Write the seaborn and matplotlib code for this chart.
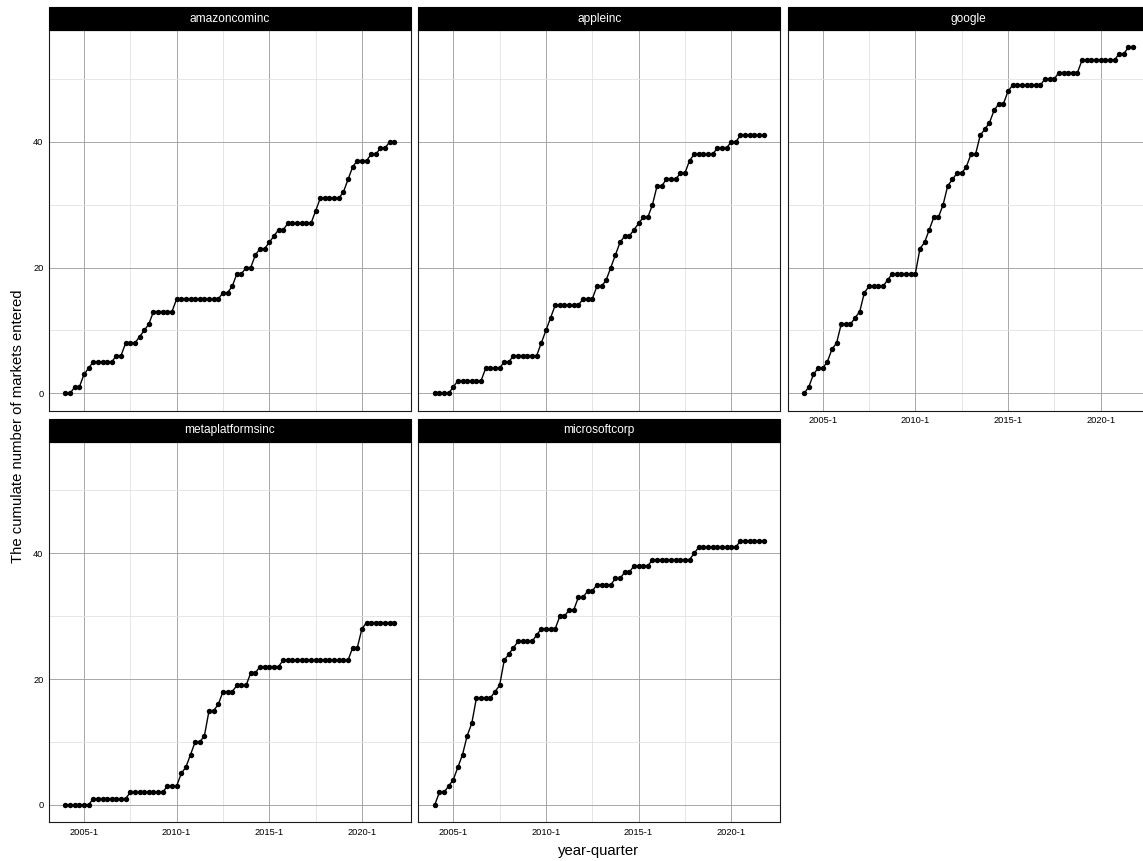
import matplotlib
matplotlib.use("Agg")
import numpy as np
import pandas as pd
import seaborn as sns
import matplotlib.pyplot as plt
from matplotlib.patches import Rectangle

# ---------------- data ----------------
firms = ["amazoncominc", "appleinc", "google", "metaplatformsinc", "microsoftcorp"]

years = list(range(2004, 2022))
quarters = [1, 2, 3, 4]
period_labels = [f"{y}-{q}" for y in years for q in quarters]
period_pos = [y + (q - 1) / 4 for y in years for q in quarters]

amazoncominc = [0, 0, 1, 1, 3, 4, 5, 5, 5, 5, 5, 6, 6, 8, 8, 8, 9, 10, 11, 13,
                13, 13, 13, 13, 15, 15, 15, 15, 15, 15, 15, 15, 15, 15, 16, 16, 17, 19, 19, 20,
                20, 22, 23, 23, 24, 25, 26, 26, 27, 27, 27, 27, 27, 27, 29, 31, 31, 31, 31, 31,
                32, 34, 36, 37, 37, 37, 38, 38, 39, 39, 40, 40]
appleinc = [0, 0, 0, 0, 1, 2, 2, 2, 2, 2, 2, 4, 4, 4, 4, 5, 5, 6, 6, 6,
            6, 6, 6, 8, 10, 12, 14, 14, 14, 14, 14, 14, 15, 15, 15, 17, 17, 18, 20, 22,
            24, 25, 25, 26, 27, 28, 28, 30, 33, 33, 34, 34, 34, 35, 35, 37, 38, 38, 38, 38,
            38, 39, 39, 39, 40, 40, 41, 41, 41, 41, 41, 41]
google = [0, 1, 3, 4, 4, 5, 7, 8, 11, 11, 11, 12, 13, 16, 17, 17, 17, 17, 18, 19,
          19, 19, 19, 19, 19, 23, 24, 26, 28, 28, 30, 33, 34, 35, 35, 36, 38, 38, 41, 42,
          43, 45, 46, 46, 48, 49, 49, 49, 49, 49, 49, 49, 50, 50, 50, 51, 51, 51, 51, 51,
          53, 53, 53, 53, 53, 53, 53, 53, 54, 54, 55, 55]
metaplatformsinc = [0, 0, 0, 0, 0, 0, 1, 1, 1, 1, 1, 1, 1, 1, 2, 2, 2, 2, 2, 2,
                    2, 2, 3, 3, 3, 5, 6, 8, 10, 10, 11, 15, 15, 16, 18, 18, 18, 19, 19, 19,
                    21, 21, 22, 22, 22, 22, 22, 23, 23, 23, 23, 23, 23, 23, 23, 23, 23, 23, 23, 23,
                    23, 23, 25, 25, 28, 29, 29, 29, 29, 29, 29, 29]
microsoftcorp = [0, 2, 2, 3, 4, 6, 8, 11, 13, 17, 17, 17, 17, 18, 19, 23, 24, 25, 26, 26,
                 26, 26, 27, 28, 28, 28, 28, 30, 30, 31, 31, 33, 33, 34, 34, 35, 35, 35, 35, 36,
                 36, 37, 37, 38, 38, 38, 38, 39, 39, 39, 39, 39, 39, 39, 39, 39, 40, 41, 41, 41,
                 41, 41, 41, 41, 41, 41, 42, 42, 42, 42, 42, 42]

series = [amazoncominc, appleinc, google, metaplatformsinc, microsoftcorp]

x_tick_pos = [2005, 2010, 2015, 2020]
x_tick_labels = ["2005-1", "2010-1", "2015-1", "2020-1"]
x_minor_pos = [2007.5, 2012.5, 2017.5]
y_ticks = [0, 20, 40]
y_minor = [10, 30, 50]

rows = []
for firm, vals in zip(firms, series):
    for lab, pos, v in zip(period_labels, period_pos, vals):
        rows.append((firm, lab, pos, v))
df = pd.DataFrame(rows, columns=["firm", "period", "t", "n"])

# ---------------- plot ----------------
sns.set_theme(style="white")
plt.rcParams["font.family"] = ["Liberation Sans", "DejaVu Sans"]

g = sns.relplot(data=df, x="t", y="n", col="firm", col_order=firms, col_wrap=3,
                kind="line", color="black", marker="o", markersize=3.9,
                markeredgewidth=0, linewidth=1.0, errorbar=None,
                height=3.8, aspect=0.95,
                facet_kws=dict(sharex=True, sharey=True, despine=False))
fig = g.figure
fig.set_size_inches(11.43, 8.61)
fig.set_dpi(100)

W, H = 1143.0, 861.0
lefts = [49.0, 418.3, 787.7]
tops = [30.1, 441.7]
aw, ah = 361.8, 380.5
strip_h = 23.0

g.set_titles("")
g.set_axis_labels("", "")

axes = g.axes.flatten()
for i, (ax, firm) in enumerate(zip(axes, firms)):
    r, c = divmod(i, 3)
    ax.set_position([lefts[c] / W, 1 - (tops[r] + ah) / H, aw / W, ah / H])
    ax.set_xticks(x_tick_pos)
    ax.set_xticklabels(x_tick_labels)
    ax.set_xticks(x_minor_pos, minor=True)
    ax.set_yticks(y_ticks)
    ax.set_yticklabels([str(v) for v in y_ticks])
    ax.set_yticks(y_minor, minor=True)
    ax.set_xlim(2003.1125, 2022.6375)
    ax.set_ylim(-2.75, 57.75)
    ax.grid(which="major", color="#9a9a9a", linewidth=0.6)
    ax.grid(which="minor", color="#e2e2e2", linewidth=0.6)
    ax.set_axisbelow(True)
    for sp in ax.spines.values():
        sp.set_visible(True)
        sp.set_color("#1a1a1a")
        sp.set_linewidth(0.8)
    ax.tick_params(which="major", length=2.5, width=0.5, color="#333333",
                   labelsize=6.7, labelcolor="black", pad=1.5)
    ax.tick_params(which="minor", length=0)
    ax.tick_params(axis="x", labelbottom=(i >= 2))
    ax.tick_params(axis="y", labelleft=(c == 0))
    ax.set_title("")
    # strip
    sh = strip_h / ah
    ax.add_patch(Rectangle((0, 1), 1, sh, transform=ax.transAxes,
                           facecolor="black", edgecolor="black", linewidth=0.8,
                           clip_on=False, zorder=5))
    ax.text(0.5, 1 + sh / 2, firm, transform=ax.transAxes, color="white",
            ha="center", va="center", fontsize=8.6, zorder=6)

fig.text(599 / W, 1 - 851 / H, "year-quarter", ha="center", va="center",
         fontsize=10.7, color="black")
fig.text(18 / W, 1 - 426 / H, "The cumulate number of markets entered",
         ha="center", va="center", rotation=90, fontsize=10.7, color="black")

fig.savefig("out.png", dpi=100)
